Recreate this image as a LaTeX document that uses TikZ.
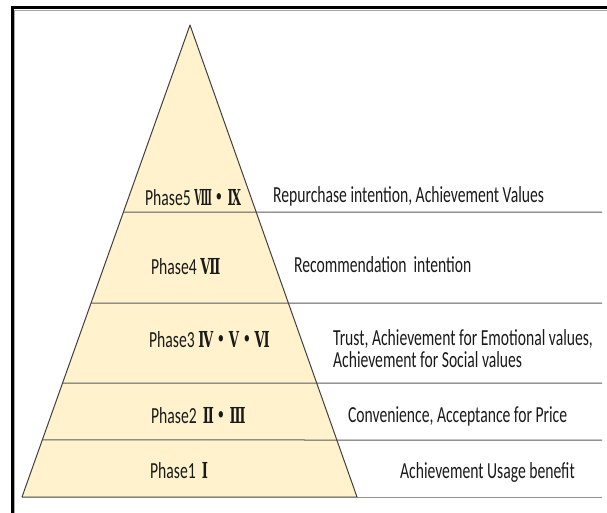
\documentclass[tikz,border=0pt]{standalone}
\usepackage{fontspec}
\setmainfont{Carlito}
\newfontfamily\romfont{DejaVu Serif}
\newfontfamily\cjkfont{Noto Sans CJK JP}
\usetikzlibrary{calc}
\definecolor{pyrfill}{HTML}{FFF2CC}
\definecolor{edgegray}{HTML}{404040}
\definecolor{sepgray}{HTML}{595959}
\definecolor{txtgray}{HTML}{1A1A1A}
\newcommand\rnum[2][0.88]{{\romfont\bfseries\fontsize{22}{24}\selectfont\scalebox{#1}[1]{#2}}}
\newcommand\mdot{{\cjkfont\bfseries ・}}
\begin{document}
\begin{tikzpicture}[x=1pt,y=-1pt,
  lbl/.style={anchor=base west, inner sep=0pt, font=\fontsize{23}{26}\selectfont, text=txtgray, xscale=0.68},
  sepline/.style={draw=sepgray, line width=1pt},
  frame/.style={draw=black, line width=3.5pt}]
\useasboundingbox (0,0) rectangle (607,512);
\clip (0,0) rectangle (607,512);
% outer frame
\draw[frame] (12.5,530) -- (12.5,7.5) -- (630,7.5);
\draw[draw=gray!70, line width=0.8pt] (14.8,530) -- (14.8,10) -- (630,10);
% pyramid
\coordinate (apex) at (190,25);
\coordinate (bl) at (22,497);
\coordinate (br) at (357,497);
\coordinate (rend) at (602,497);
\fill[pyrfill] (apex) -- (bl) -- (br) -- cycle;
\foreach \t/\yy in {0.3962/212, 0.5890/303, 0.7585/383, 0.8792/440}{
  \draw[sepline] ($(apex)!\t!(bl)$) -- (602,\yy);
}
\draw[draw=gray!85, line width=1pt] (br) -- (rend);
\draw[draw=edgegray, line width=1pt, line join=round] (apex) -- (bl) -- (br) -- cycle;
% phase labels
\node[lbl] (p5) at (145,205) {Phase5 \rnum[0.62]{Ⅷ}{\cjkfont\bfseries ・}\rnum[0.8]{Ⅸ}};
\node[lbl] (p4) at (151,274) {Phase4 \rnum{Ⅶ}};
\node[lbl] (p3) at (149,347) {Phase3 \rnum{Ⅳ}\mdot\rnum{Ⅴ}\mdot\rnum{Ⅵ}};
\node[lbl] (p2) at (151,423) {Phase2 \,\rnum{Ⅱ}\mdot\rnum{Ⅲ}};
\node[lbl] (p1) at (150,478) {Phase1 \,\rnum{Ⅰ}};
% descriptions
\node[lbl] (d5) at (273,202) {Repurchase intention, Achievement Values};
\node[lbl] (d4) at (294,272) {Recommendation\ \ intention};
\node[lbl] (d3a) at (333,345) {Trust, Achievement for Emotional values,};
\node[lbl] (d3b) at (333,367) {Achievement for Social values};
\node[lbl] (d2) at (348,422) {Convenience, Acceptance for Price};
\node[lbl] (d1) at (400,478) {Achievement Usage benefit};
\end{tikzpicture}
\end{document}
